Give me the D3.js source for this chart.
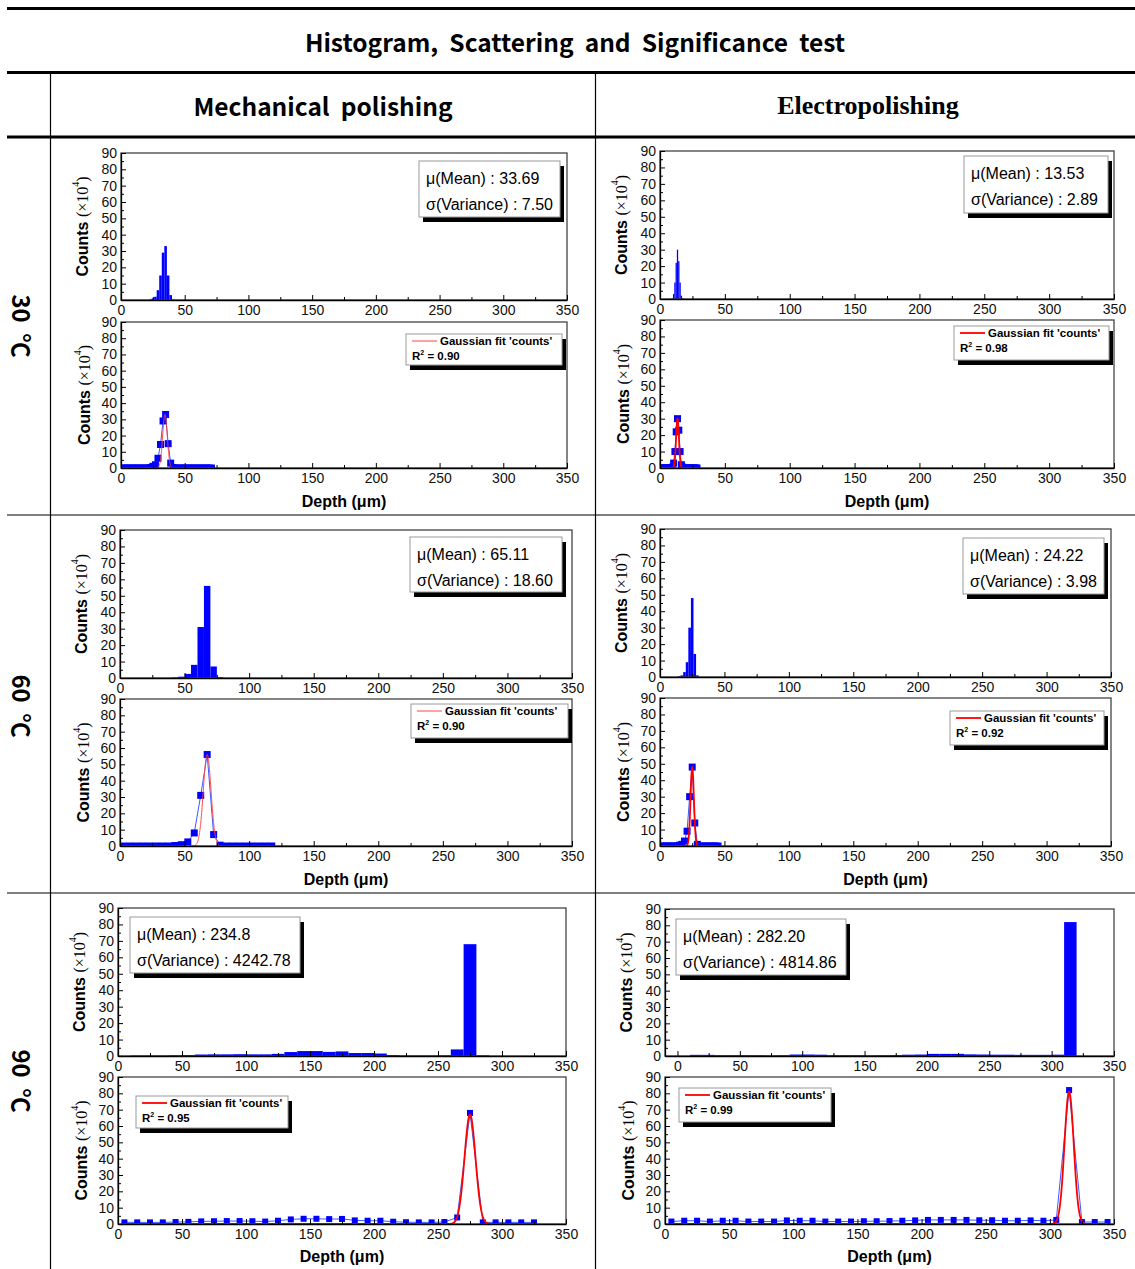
<!DOCTYPE html>
<html>
<head>
<meta charset="utf-8">
<script src="https://cdn.jsdelivr.net/npm/d3@7"></script>
<style>
  body { margin: 0; background: #fff; }
  svg { display: block; }
</style>
</head>
<body>
<svg id="fig" width="1135" height="1269"></svg>
<script>
// ---------- axis ticks ----------
const depthTicks = [0, 50, 100, 150, 200, 250, 300, 350];
const depthMinor = [25, 75, 125, 175, 225, 275, 325];
const countTicks = [0, 10, 20, 30, 40, 50, 60, 70, 80, 90];
const countMinor = [5, 15, 25, 35, 45, 55, 65, 75, 85];

// ---------- table text ----------
const tableTitle = "Histogram,  Scattering  and  Significance  test";
const methods = ["Mechanical  polishing", "Electropolishing"];
const temperatures = ["30  \u2103", "60  \u2103", "90  \u2103"];

// ---------- Mechanical polishing, 30 C (bin width 2 um) ----------
const mech30HistX = [23, 25, 27, 29, 31, 33, 35, 37, 39, 41];
const mech30HistY = [0.3, 1, 2, 6, 15, 29, 33, 15, 3, 0.3];
const mech30ScatX = [1, 3, 5, 7, 9, 11, 13, 15, 17, 19, 21, 23, 25, 27, 29, 31, 33, 35, 37, 39, 41, 43, 45, 47, 49, 51, 53, 55, 57, 59, 61, 63, 65, 67, 69, 71];
const mech30ScatY = [0, 0, 0, 0, 0, 0, 0, 0, 0, 0, 0, 0.3, 1, 2, 6, 14.5, 29, 33, 15, 3, 0.3, 0, 0, 0, 0, 0, 0, 0, 0, 0, 0, 0, 0, 0, 0, 0];

// ---------- Electropolishing, 30 C (bin width 1 um) ----------
const elec30HistX = [9.5, 10.5, 11.5, 12.5, 13.5, 14.5, 15.5, 16.5, 17.5];
const elec30HistY = [0.5, 3, 10, 22, 30, 23, 10, 2, 0.5];
const elec30ScatX = [0.5, 1.5, 2.5, 3.5, 4.5, 5.5, 6.5, 7.5, 8.5, 9.5, 10.5, 11.5, 12.5, 13.5, 14.5, 15.5, 16.5, 17.5, 18.5, 19.5, 20.5, 21.5, 22.5, 23.5, 24.5, 25.5, 26.5, 27.5, 28.5];
const elec30ScatY = [0, 0, 0, 0, 0, 0, 0, 0, 0, 0.5, 3, 10, 22, 30, 23, 10, 2, 0.5, 0, 0, 0, 0, 0, 0, 0, 0, 0, 0, 0];

// ---------- Mechanical polishing, 60 C (bin width 5 um) ----------
const mech60HistX = [42.5, 47.5, 52.5, 57.5, 62.5, 67.5, 72.5, 77.5];
const mech60HistY = [0.3, 0.8, 2.5, 8, 31, 56, 7, 0.5];
const mech60ScatX = [2.5, 7.5, 12.5, 17.5, 22.5, 27.5, 32.5, 37.5, 42.5, 47.5, 52.5, 57.5, 62.5, 67.5, 72.5, 77.5, 82.5, 87.5, 92.5, 97.5, 102.5, 107.5, 112.5, 117.5];
const mech60ScatY = [0, 0, 0, 0, 0, 0, 0, 0, 0.3, 0.8, 2.5, 8, 31, 56, 7, 0.5, 0, 0, 0, 0, 0, 0, 0, 0];

// ---------- Electropolishing, 60 C (bin width 2 um) ----------
const elec60HistX = [15, 17, 19, 21, 23, 25, 27, 29];
const elec60HistY = [0.5, 1, 3, 9, 30, 48, 14, 1];
const elec60ScatX = [1, 3, 5, 7, 9, 11, 13, 15, 17, 19, 21, 23, 25, 27, 29, 31, 33, 35, 37, 39, 41, 43, 45];
const elec60ScatY = [0, 0, 0, 0, 0, 0, 0, 0.5, 1, 3, 9, 30, 48, 14, 1, 0, 0, 0, 0, 0, 0, 0, 0];

// ---------- Mechanical polishing, 90 C (bin width 10 um) ----------
const mech90HistX = [15, 25, 35, 45, 55, 65, 75, 85, 95, 105, 115, 125, 135, 145, 155, 165, 175, 185, 195, 205, 215, 225, 235, 245, 255, 265, 275, 285];
const mech90HistY = [0.3, 0.3, 0.3, 0.5, 0.6, 0.9, 1.0, 1.0, 1.1, 1.0, 1.0, 1.3, 2.4, 3.0, 3.0, 2.5, 2.8, 1.8, 1.8, 1.5, 0.6, 0.3, 0.3, 0.3, 0.4, 4, 68, 0.4];
const mech90ScatX = [5, 15, 25, 35, 45, 55, 65, 75, 85, 95, 105, 115, 125, 135, 145, 155, 165, 175, 185, 195, 205, 215, 225, 235, 245, 255, 265, 275, 285, 295, 305, 315, 325];
const mech90ScatY = [1, 1, 1, 1, 1.2, 1.3, 1.6, 1.7, 1.8, 1.8, 1.7, 1.5, 2, 2.8, 3.2, 3.2, 3, 3.1, 2.2, 2, 2, 1.4, 1.1, 1, 1, 1.2, 4, 68, 1, 1, 1, 1, 1];

// ---------- Electropolishing, 90 C (bin width 10 um) ----------
const elec90HistX = [15, 25, 35, 45, 55, 65, 75, 85, 95, 105, 115, 125, 135, 145, 155, 165, 175, 185, 195, 205, 215, 225, 235, 245, 255, 265, 275, 285, 295, 305, 315];
const elec90HistY = [0.7, 0.7, 0.5, 0.5, 0.5, 0.5, 0.4, 0.5, 0.9, 0.9, 0.8, 0.5, 0.5, 0.5, 0.4, 0.5, 0.6, 0.8, 0.9, 1.3, 1.3, 1.3, 1.0, 0.9, 0.8, 0.8, 0.7, 0.7, 0.7, 0.8, 82];
const elec90ScatX = [5, 15, 25, 35, 45, 55, 65, 75, 85, 95, 105, 115, 125, 135, 145, 155, 165, 175, 185, 195, 205, 215, 225, 235, 245, 255, 265, 275, 285, 295, 305, 315, 325, 335, 345];
const elec90ScatY = [1.5, 2, 2, 1.5, 2, 2, 1.5, 1.5, 1.5, 2.2, 2, 2, 1.5, 1.5, 1.5, 1.7, 1.7, 1.8, 2, 2.2, 2.5, 2.5, 2.5, 2.5, 2.3, 2.3, 2, 2, 2.2, 2, 2.5, 82, 1.2, 1.2, 1.2];

// ---------- summary statistics and Gaussian fits ----------
const panelKeys   = ["mech30", "elec30", "mech60", "elec60", "mech90", "elec90"];
const meanText    = ["33.69", "13.53", "65.11", "24.22", "234.8", "282.20"];
const varText     = ["7.50", "2.89", "18.60", "3.98", "4242.78", "4814.86"];
const r2Text      = ["0.90", "0.98", "0.90", "0.92", "0.95", "0.99"];
const fitCenter   = [34.5, 13.5, 67.5, 25, 275, 315];
const fitSigma    = [1.8, 1.1, 3.0, 1.3, 4.3, 3.6];
const fitAmp      = [33, 30, 56, 48, 67, 81];
const binWidth    = [2, 1, 5, 2, 10, 10];

const histX = [mech30HistX, elec30HistX, mech60HistX, elec60HistX, mech90HistX, elec90HistX];
const histY = [mech30HistY, elec30HistY, mech60HistY, elec60HistY, mech90HistY, elec90HistY];
const scatX = [mech30ScatX, elec30ScatX, mech60ScatX, elec60ScatX, mech90ScatX, elec90ScatX];
const scatY = [mech30ScatY, elec30ScatY, mech60ScatY, elec60ScatY, mech90ScatY, elec90ScatY];

// ---------- page geometry ----------
const layout = [
  { x: [121, 567], top: [153, 300], bot: [322, 468], topDom: [0, 350], stats: [419, 161, 141, 56], leg: [406, 334, 156, 31], depthY: 507, fitW: 1, fitCol: "#ff4444", mark: 7 },
  { x: [660, 1114], top: [151, 299], bot: [320, 468], topDom: [0, 350], stats: [964, 156, 144, 57], leg: [954, 326, 155, 34], depthY: 507, fitW: 1.8, fitCol: "#ff0000", mark: 7 },
  { x: [120, 572], top: [530, 678], bot: [699, 846], topDom: [0, 350], stats: [410, 537, 152, 55], leg: [411, 704, 157, 34], depthY: 885, fitW: 1, fitCol: "#ff4444", mark: 7 },
  { x: [660, 1111], top: [529, 677], bot: [698, 846], topDom: [0, 350], stats: [963, 538, 141, 56], leg: [950, 711, 154, 34], depthY: 885, fitW: 1.8, fitCol: "#ff0000", mark: 7 },
  { x: [118, 566], top: [908, 1056], bot: [1077, 1224], topDom: [0, 350], stats: [130, 917, 170, 56], leg: [136, 1096, 152, 32], depthY: 1262, fitW: 1.8, fitCol: "#ff0000", mark: 6 },
  { x: [665, 1114], top: [909, 1056], bot: [1077, 1224], topDom: [-10, 350], stats: [676, 919, 170, 56], leg: [679, 1088, 152, 34], depthY: 1262, fitW: 1.8, fitCol: "#ff0000", mark: 6 }
];

const SANS = '"Liberation Sans", Arial, Helvetica, sans-serif';
const SERIF = '"Liberation Serif", "Times New Roman", serif';
const KR = '"Noto Sans CJK KR", "Noto Sans", sans-serif';

const svg = d3.select("#fig");
svg.append("rect").attr("width", 1135).attr("height", 1269).attr("fill", "#fff");

// ---------- table frame ----------
const tbl = svg.append("g").attr("class", "table");
[[8.5, 3], [72.5, 3], [137, 3], [515, 1.2], [893, 1.2]].forEach(([y, w]) => {
  tbl.append("line").attr("x1", 7).attr("x2", 1135).attr("y1", y).attr("y2", y)
    .attr("stroke", "#000").attr("stroke-width", w);
});
[50.5, 595.5].forEach(x => {
  tbl.append("line").attr("x1", x).attr("x2", x).attr("y1", 74).attr("y2", 1269)
    .attr("stroke", "#000").attr("stroke-width", 1.2);
});
tbl.append("text").attr("x", 575).attr("y", 41).attr("text-anchor", "middle")
  .attr("dominant-baseline", "central").attr("font-family", KR).attr("font-weight", 700)
  .attr("font-size", 24.5).style("white-space", "pre").text(tableTitle);
tbl.append("text").attr("x", 323).attr("y", 105).attr("text-anchor", "middle")
  .attr("dominant-baseline", "central").attr("font-family", KR).attr("font-weight", 700)
  .attr("font-size", 24.5).style("white-space", "pre").text(methods[0]);
tbl.append("text").attr("x", 868).attr("y", 105).attr("text-anchor", "middle")
  .attr("dominant-baseline", "central").attr("font-family", SERIF).attr("font-weight", 700)
  .attr("font-size", 26).text(methods[1]);
[326, 706, 1081].forEach((cy, i) => {
  tbl.append("text").attr("transform", `translate(22,${cy}) rotate(90)`)
    .attr("text-anchor", "middle").attr("dominant-baseline", "central")
    .attr("font-family", KR).attr("font-weight", 700).attr("font-size", 24)
    .style("white-space", "pre").text(temperatures[i]);
});

// ---------- panels ----------
function countsLabel(g, x, cy) {
  const t = g.append("text").attr("transform", `translate(${x},${cy}) rotate(-90)`)
    .attr("text-anchor", "middle").attr("dominant-baseline", "central").attr("font-size", 16);
  t.append("tspan").attr("font-family", SANS).attr("font-weight", 700).text("Counts ");
  t.append("tspan").attr("font-family", SERIF).text("(\u00d710");
  t.append("tspan").attr("font-family", SERIF).attr("font-size", 10).attr("dy", -7).text("4");
  t.append("tspan").attr("font-family", SERIF).attr("dy", 7).text(")");
}

function drawAxes(g, xs, ys) {
  const y1 = ys.range()[0];
  g.append("g").attr("transform", `translate(0,${y1})`)
    .call(d3.axisBottom(xs).tickValues(depthTicks.filter(v => v >= xs.domain()[0] && v <= xs.domain()[1]))
      .tickSizeInner(-5).tickSizeOuter(0).tickPadding(5).tickFormat(d3.format("d")));
  g.append("g").attr("transform", `translate(0,${y1})`)
    .call(d3.axisBottom(xs).tickValues(depthMinor).tickSizeInner(-3).tickSizeOuter(0).tickFormat(""))
    .select(".domain").remove();
  g.append("g").attr("transform", `translate(${xs.range()[0]},0)`)
    .call(d3.axisLeft(ys).tickValues(countTicks).tickSizeInner(-5).tickSizeOuter(0).tickPadding(4));
  g.append("g").attr("transform", `translate(${xs.range()[0]},0)`)
    .call(d3.axisLeft(ys).tickValues(countMinor).tickSizeInner(-3).tickSizeOuter(0).tickFormat(""))
    .select(".domain").remove();
  g.selectAll(".tick text").attr("font-family", SANS).attr("font-size", 14).attr("fill", "#111");
  g.selectAll(".tick line").attr("stroke", "#000");
  g.selectAll(".domain").attr("stroke", "#000").attr("stroke-width", 1.3);
}

layout.forEach((L, i) => {
  const g = svg.append("g").attr("class", "panel-" + panelKeys[i]);
  const [xl, xr] = L.x;

  // ---- histogram (upper plot) ----
  {
    const [y0, y1] = L.top;
    const xs = d3.scaleLinear().domain(L.topDom).range([xl, xr]);
    const ys = d3.scaleLinear().domain([0, 90]).range([y1, y0]);
    const cid = "clipH" + i;
    g.append("clipPath").attr("id", cid).append("rect")
      .attr("x", xl).attr("y", y0).attr("width", xr - xl).attr("height", y1 - y0);
    const w = binWidth[i];
    const bins = histX[i].map((c, k) => ({ c, v: histY[i][k] }));
    g.append("g").attr("clip-path", `url(#${cid})`).selectAll("rect").data(bins).join("rect")
      .attr("x", d => xs(d.c - w / 2)).attr("width", d => xs(d.c + w / 2) - xs(d.c - w / 2))
      .attr("y", d => ys(d.v)).attr("height", d => ys(0) - ys(d.v))
      .attr("fill", "#0000ff");
    g.append("rect").attr("x", xl).attr("y", y0).attr("width", xr - xl).attr("height", y1 - y0)
      .attr("fill", "none").attr("stroke", "#444").attr("stroke-width", 1.3);
    drawAxes(g.append("g"), xs, ys);
    countsLabel(g, xl - 39, (y0 + y1) / 2);

    // statistics box
    const [bx, by, bw, bh] = L.stats;
    g.append("rect").attr("x", bx + 4).attr("y", by + 5).attr("width", bw).attr("height", bh).attr("fill", "#000");
    g.append("rect").attr("x", bx).attr("y", by).attr("width", bw).attr("height", bh)
      .attr("fill", "#fff").attr("stroke", "#999").attr("stroke-width", 1);
    g.append("text").attr("x", bx + 7).attr("y", by + 23).attr("font-family", SANS).attr("font-size", 16)
      .text("\u03bc(Mean) : " + meanText[i]);
    g.append("text").attr("x", bx + 7).attr("y", by + 49).attr("font-family", SANS).attr("font-size", 16)
      .text("\u03c3(Variance) : " + varText[i]);
  }

  // ---- scatter with Gaussian fit (lower plot) ----
  {
    const [y0, y1] = L.bot;
    const xs = d3.scaleLinear().domain([0, 350]).range([xl, xr]);
    const ys = d3.scaleLinear().domain([0, 90]).range([y1, y0]);
    const cid = "clipS" + i;
    g.append("clipPath").attr("id", cid).append("rect")
      .attr("x", xl).attr("y", y0).attr("width", xr - xl).attr("height", y1 - y0);
    const pts = scatX[i].map((x, k) => ({ x, y: scatY[i][k] }));
    const pg = g.append("g").attr("clip-path", `url(#${cid})`);
    pg.append("path").datum(pts)
      .attr("d", d3.line().x(d => xs(d.x)).y(d => ys(d.y)))
      .attr("fill", "none").attr("stroke", "#3a5cff").attr("stroke-width", 1);
    const m = L.mark;
    pg.selectAll("rect.pt").data(pts).join("rect").attr("class", "pt")
      .attr("x", d => xs(d.x) - m / 2).attr("y", d => ys(d.y) - m / 2)
      .attr("width", m).attr("height", m).attr("fill", "#0000ff");

    // Gaussian model from the fitted parameters
    const xMin = d3.min(scatX[i]), xMax = d3.max(scatX[i]);
    const fit = d3.range(xMin, xMax + 0.001, (xMax - xMin) / 1200).map(x => ({
      x, y: fitAmp[i] * Math.exp(-((x - fitCenter[i]) ** 2) / (2 * fitSigma[i] ** 2))
    }));
    pg.append("path").datum(fit)
      .attr("d", d3.line().x(d => xs(d.x)).y(d => ys(d.y)))
      .attr("fill", "none").attr("stroke", L.fitCol).attr("stroke-width", L.fitW);

    g.append("rect").attr("x", xl).attr("y", y0).attr("width", xr - xl).attr("height", y1 - y0)
      .attr("fill", "none").attr("stroke", "#444").attr("stroke-width", 1.3);
    drawAxes(g.append("g"), xs, ys);
    countsLabel(g, xl - 37, (y0 + y1) / 2);

    // legend
    const [lx, ly, lw, lh] = L.leg;
    g.append("rect").attr("x", lx + 4).attr("y", ly + 5).attr("width", lw).attr("height", lh).attr("fill", "#000");
    g.append("rect").attr("x", lx).attr("y", ly).attr("width", lw).attr("height", lh)
      .attr("fill", "#fff").attr("stroke", "#999").attr("stroke-width", 1);
    g.append("line").attr("x1", lx + 6).attr("x2", lx + 31).attr("y1", ly + 7).attr("y2", ly + 7)
      .attr("stroke", L.fitCol).attr("stroke-width", L.fitW);
    g.append("text").attr("x", lx + 34).attr("y", ly + 11).attr("font-family", SANS).attr("font-weight", 700)
      .attr("font-size", 11.5).text("Gaussian fit 'counts'");
    const r = g.append("text").attr("x", lx + 6).attr("y", ly + 26).attr("font-family", SANS)
      .attr("font-weight", 700).attr("font-size", 11.5);
    r.append("tspan").text("R");
    r.append("tspan").attr("font-size", 7).attr("dy", -5).text("2");
    r.append("tspan").attr("dy", 5).text(" = " + r2Text[i]);

    // depth axis title
    g.append("text").attr("x", (xl + xr) / 2).attr("y", L.depthY).attr("text-anchor", "middle")
      .attr("font-family", SANS).attr("font-weight", 700).attr("font-size", 16).text("Depth (\u03bcm)");
  }
});
</script>
</body>
</html>
